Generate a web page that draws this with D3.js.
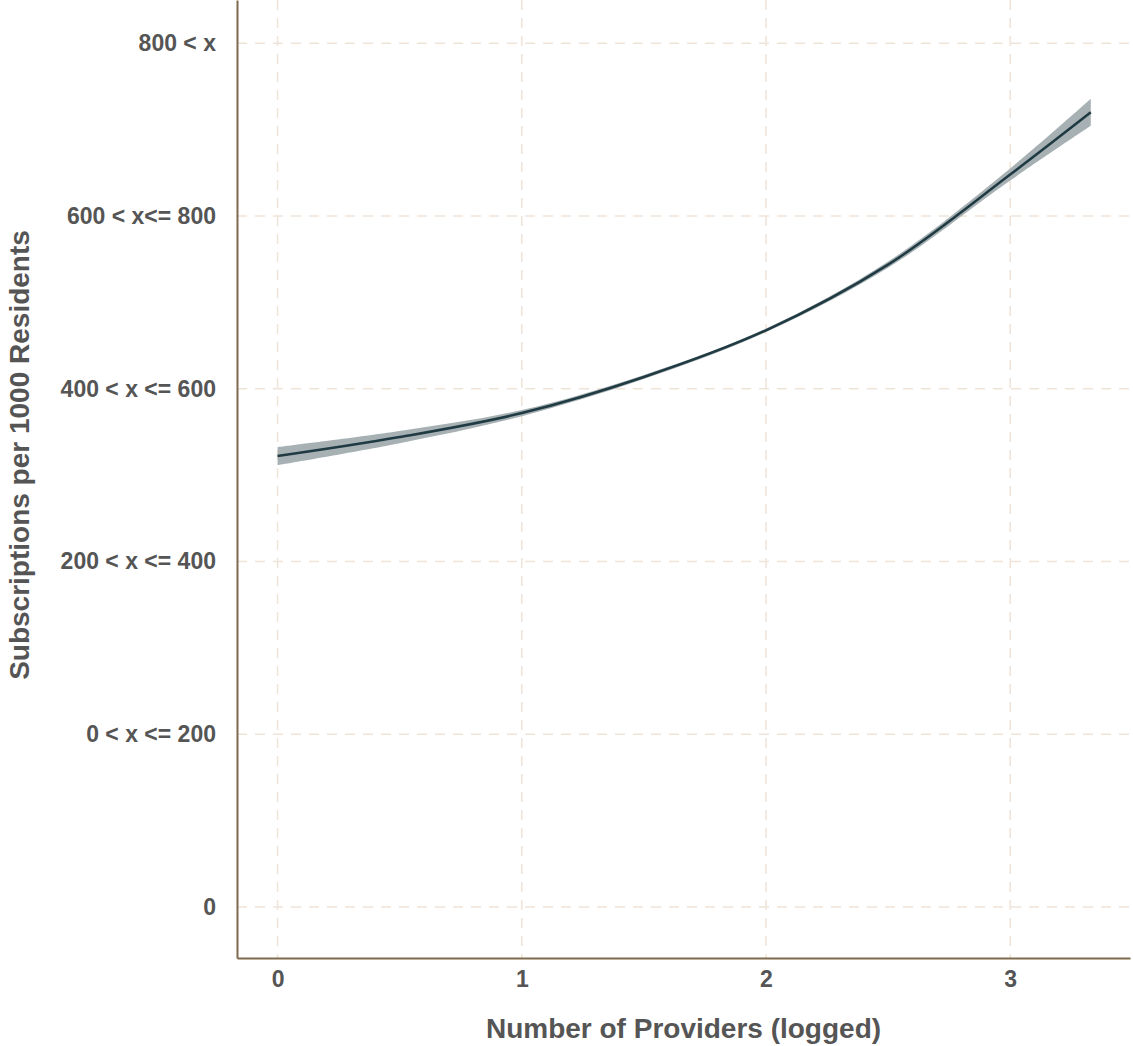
<!DOCTYPE html>
<html>
<head>
    <title>Subscriptions vs Providers</title>
    <script src="https://d3js.org/d3.v7.min.js"></script>
    <style>
        body { margin: 0; background: #fff; }
        text { font-family: "Liberation Sans", Arial, sans-serif; font-weight: bold; fill: #555; }
    </style>
</head>
<body>
    <div id="chart"></div>

    <script>
        // values
        const providers = [0, 0.5, 1, 1.5, 2, 2.5, 3, 3.33];
        const fitted = [2.610, 2.720, 2.859, 3.068, 3.338, 3.718, 4.240, 4.600];
        const ciLower = [2.558, 2.685, 2.841, 3.056, 3.328, 3.700, 4.205, 4.522];
        const ciUpper = [2.662, 2.755, 2.877, 3.080, 3.348, 3.736, 4.275, 4.678];

        const xTicks = [0, 1, 2, 3];
        const yTicks = [0, 1, 2, 3, 4, 5];
        const yLabels = ["0", "0 < x <= 200", "200 < x <= 400", "400 < x <= 600", "600 < x<= 800", "800 < x"];

        const width = 1133, height = 1046;
        const plot = { left: 237, right: 1130, top: 0, bottom: 958 };

        const svg = d3.select("#chart").append("svg")
            .attr("width", width)
            .attr("height", height);

        const x = d3.scaleLinear().domain([-0.1662, 3.4906]).range([plot.left, plot.right]);
        const y = d3.scaleLinear()
            .domain([-(plot.bottom - 907) / 172.76, 5 + 43.2 / 172.76])
            .range([plot.bottom, plot.top]);

        // grid
        svg.append("g").selectAll("line")
            .data(yTicks)
            .enter().append("line")
            .attr("x1", plot.left).attr("x2", plot.right)
            .attr("y1", d => y(d)).attr("y2", d => y(d))
            .attr("stroke", "#f0e3d7").attr("stroke-width", 1.5)
            .attr("stroke-dasharray", "10,8");

        svg.append("g").selectAll("line")
            .data(xTicks)
            .enter().append("line")
            .attr("x1", d => x(d)).attr("x2", d => x(d))
            .attr("y1", plot.top).attr("y2", plot.bottom)
            .attr("stroke", "#f0e3d7").attr("stroke-width", 1.5)
            .attr("stroke-dasharray", "10,8");

        const rows = providers.map((p, i) => ({ p: p, fit: fitted[i], lo: ciLower[i], hi: ciUpper[i] }));

        svg.append("path")
            .datum(rows)
            .attr("fill", "#a7b1b4")
            .attr("d", d3.area()
                .x(d => x(d.p))
                .y0(d => y(d.lo))
                .y1(d => y(d.hi))
                .curve(d3.curveCatmullRom));

        svg.append("path")
            .datum(rows)
            .attr("fill", "none")
            .attr("stroke", "#1f3a42")
            .attr("stroke-width", 2.5)
            .attr("d", d3.line()
                .x(d => x(d.p))
                .y(d => y(d.fit))
                .curve(d3.curveCatmullRom));

        // axes
        const yAxis = svg.append("g")
            .attr("transform", "translate(" + plot.left + ",0)")
            .call(d3.axisLeft(y).tickValues(yTicks).tickFormat((d, i) => yLabels[i]).tickSize(0).tickPadding(21));

        const xAxis = svg.append("g")
            .attr("transform", "translate(0," + plot.bottom + ")")
            .call(d3.axisBottom(x).tickValues(xTicks).tickFormat(d3.format("d")).tickSize(0).tickPadding(13));

        [yAxis, xAxis].forEach(g => {
            g.select(".domain").attr("stroke", "#7f6a4e").attr("stroke-width", 2);
            g.selectAll("text")
                .style("font-family", "'Liberation Sans', Arial, sans-serif")
                .style("font-weight", "bold")
                .style("font-size", "23px")
                .attr("fill", "#555");
        });

        svg.append("text")
            .attr("x", (plot.left + plot.right) / 2)
            .attr("y", 1038)
            .attr("text-anchor", "middle")
            .style("font-size", "28px")
            .text("Number of Providers (logged)");

        svg.append("text")
            .attr("transform", "translate(29,455) rotate(-90)")
            .attr("text-anchor", "middle")
            .style("font-size", "28px")
            .text("Subscriptions per 1000 Residents");
    </script>
</body>
</html>
